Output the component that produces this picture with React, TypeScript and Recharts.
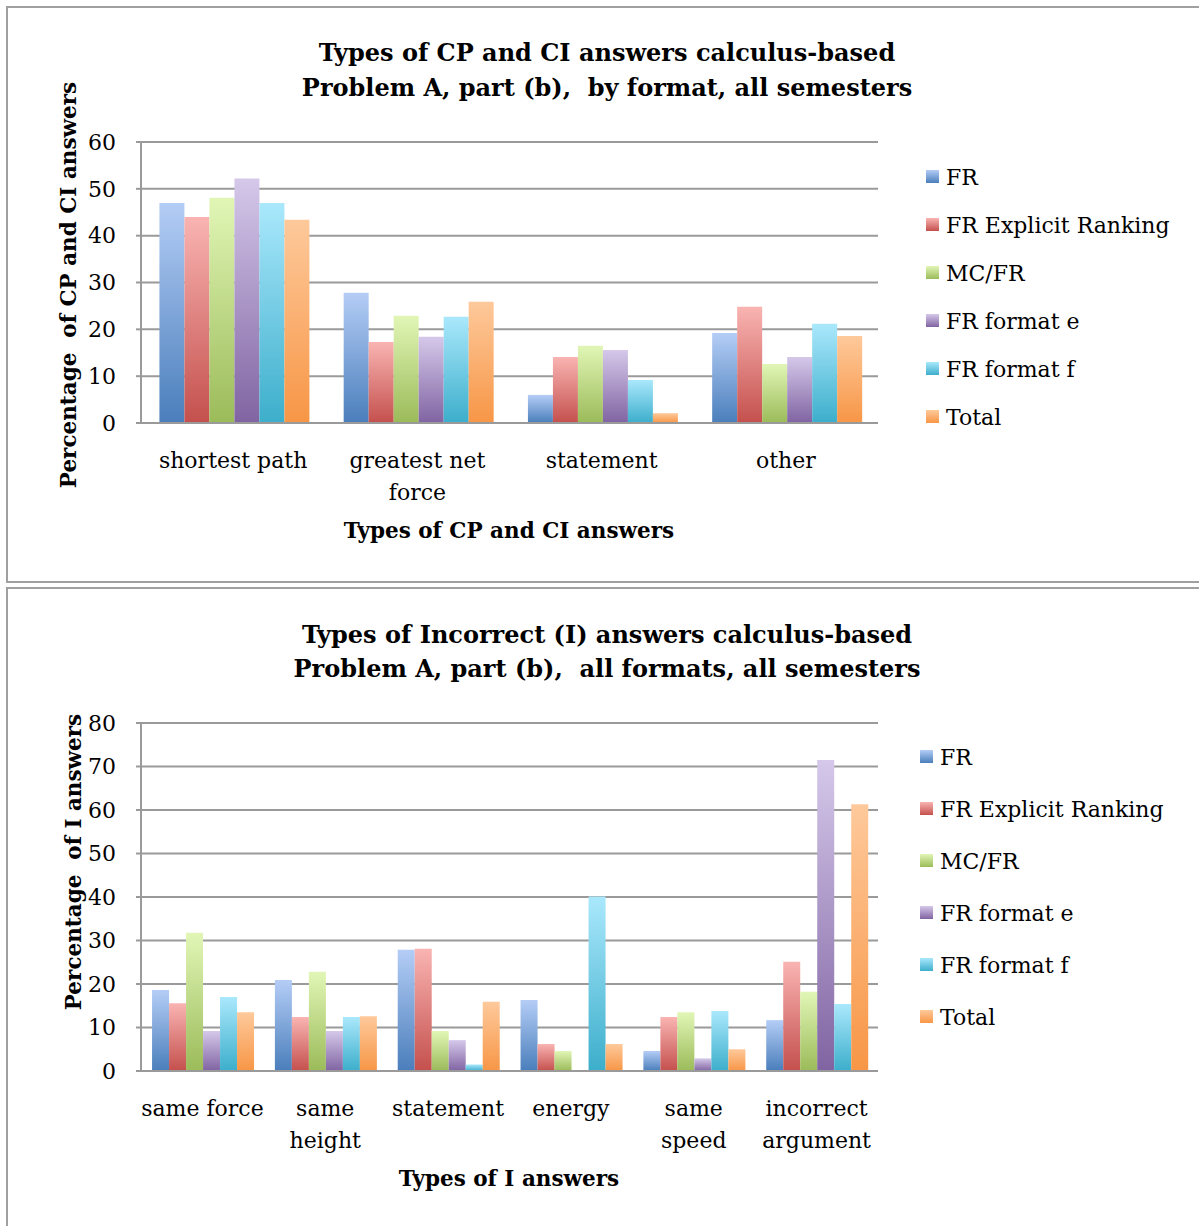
import React from "react";
import { BarChart, Bar, XAxis, YAxis, CartesianGrid } from "recharts";

const FONT = "'DejaVu Serif', serif";

const seriesNames = ["FR", "FR Explicit Ranking", "MC/FR", "FR format e", "FR format f", "Total"];
const seriesLight = ["#b4cdf6", "#f9b4b2", "#e1f6b6", "#d5c8ea", "#aae8fc", "#fec99b"];
const seriesDark = ["#4a7ebb", "#c4504d", "#9bbb59", "#8064a2", "#3caecb", "#f79646"];

// Top chart
const cpTitle = ["Types of CP and CI answers calculus-based", "Problem A, part (b),  by format, all semesters"];
const cpCategories = ["shortest path", "greatest net force", "statement", "other"];
const cpTickLines = [["shortest path"], ["greatest net", "force"], ["statement"], ["other"]];
const cpFR = [47.0, 27.8, 6.0, 19.2];
const cpExplicit = [44.0, 17.3, 14.1, 24.8];
const cpMCFR = [48.1, 22.9, 16.5, 12.6];
const cpFormatE = [52.2, 18.4, 15.6, 14.1];
const cpFormatF = [47.0, 22.7, 9.2, 21.2];
const cpTotal = [43.4, 25.9, 2.1, 18.6];
const cpYTicks = [0, 10, 20, 30, 40, 50, 60];

// Bottom chart
const iTitle = ["Types of Incorrect (I) answers calculus-based", "Problem A, part (b),  all formats, all semesters"];
const iCategories = ["same force", "same height", "statement", "energy", "same speed", "incorrect argument"];
const iTickLines = [["same force"], ["same", "height"], ["statement"], ["energy"], ["same", "speed"], ["incorrect", "argument"]];
const iFR = [18.6, 20.9, 27.9, 16.3, 4.6, 11.7];
const iExplicit = [15.6, 12.4, 28.1, 6.2, 12.4, 25.1];
const iMCFR = [31.8, 22.8, 9.2, 4.6, 13.5, 18.2];
const iFormatE = [9.2, 9.2, 7.1, 0, 2.9, 71.5];
const iFormatF = [17.0, 12.4, 1.5, 40.1, 13.8, 15.4];
const iTotal = [13.5, 12.6, 15.9, 6.2, 5.0, 61.3];
const iYTicks = [0, 10, 20, 30, 40, 50, 60, 70, 80];

function buildRows(categories: string[], series: number[][]) {
  return categories.map((c, i) => {
    const row: any = { name: c };
    series.forEach((s, k) => (row["s" + k] = s[i]));
    return row;
  });
}

type PanelProps = {
  id: string;
  top: number;
  height: number;
  title: string[];
  titleY: number[];
  categories: string[];
  tickLines: string[][];
  series: number[][];
  yTicks: number[];
  plotTop: number;
  plotBottom: number;
  gap: string;
  yTitle: string;
  yTitlePos: [number, number];
  xTitle: string;
  legendLeft: number;
  legendTop: number;
  legendRow: number;
};

const TICK_FS = 22;
const LEG_FS = 22;
const TITLE_FS = 24;
const AXT_FS = 21.5;

function Panel(p: PanelProps) {
  const W = 1199;
  const rows = buildRows(p.categories, p.series);
  const plotLeft = 141;
  const plotRight = 878;
  const yAxisW = 60;
  const xAxisH = 130;
  const margin = {
    top: p.plotTop,
    left: plotLeft - yAxisW,
    right: W - plotRight,
    bottom: p.height - p.plotBottom - xAxisH,
  };
  const renderTick = (props: any) => {
    const { x, y, payload } = props;
    const idx = p.categories.indexOf(payload.value);
    const lines = idx >= 0 ? p.tickLines[idx] : [String(payload.value)];
    return (
      <g>
        {lines.map((l, i) => (
          <text
            key={i}
            x={x}
            y={y + 35 + i * 32}
            textAnchor="middle"
            dominantBaseline="central"
            fontSize={TICK_FS}
            fontFamily={FONT}
            fill="#000"
          >
            {l}
          </text>
        ))}
      </g>
    );
  };
  return (
    <div
      style={{
        position: "absolute",
        left: 0,
        top: p.top,
        width: W,
        height: p.height,
      }}
    >
      <BarChart
        width={W}
        height={p.height}
        data={rows}
        margin={margin}
        barCategoryGap={p.gap}
        barGap={0}
        style={{ position: "absolute", left: 0, top: 0 }}
      >
        <defs>
          {seriesNames.map((n, k) => (
            <linearGradient key={n} id={`${p.id}g${k}`} x1="0" y1="0" x2="0" y2="1">
              <stop offset="0%" stopColor={seriesLight[k]} />
              <stop offset="100%" stopColor={seriesDark[k]} />
            </linearGradient>
          ))}
        </defs>
        <CartesianGrid vertical={false} stroke="#9a9a9a" strokeWidth={2} />
        <XAxis
          dataKey="name"
          height={xAxisH}
          tick={renderTick}
          tickLine={false}
          tickSize={0}
          axisLine={{ stroke: "#9a9a9a", strokeWidth: 2 }}
          interval={0}
        />
        <YAxis
          width={yAxisW}
          domain={[p.yTicks[0], p.yTicks[p.yTicks.length - 1]]}
          ticks={p.yTicks}
          interval={0}
          tickSize={5}
          tickMargin={20}
          tickLine={{ stroke: "#9a9a9a", strokeWidth: 2 }}
          axisLine={{ stroke: "#9a9a9a", strokeWidth: 2 }}
          tick={{ fill: "#000", fontSize: TICK_FS, fontFamily: FONT }}
        />
        {seriesNames.map((n, k) => (
          <Bar key={n} dataKey={"s" + k} name={n} fill={`url(#${p.id}g${k})`} isAnimationActive={false} />
        ))}
      </BarChart>
      <svg
        width={W}
        height={p.height}
        style={{ position: "absolute", left: 0, top: 0, pointerEvents: "none" }}
      >
        <defs>
          {seriesNames.map((n, k) => (
            <linearGradient key={n} id={`${p.id}lg${k}`} x1="0" y1="0" x2="0" y2="1">
              <stop offset="0%" stopColor={seriesLight[k]} />
              <stop offset="100%" stopColor={seriesDark[k]} />
            </linearGradient>
          ))}
        </defs>
        {p.title.map((t, i) => (
          <text
            key={i}
            x={607}
            y={p.titleY[i]}
            textAnchor="middle"
            dominantBaseline="central"
            fontSize={TITLE_FS}
            fontWeight="bold"
            fontFamily={FONT}
            fill="#000"
            style={{ whiteSpace: "pre" }}
          >
            {t}
          </text>
        ))}
        <text
          x={509}
          y={p.plotBottom + 107}
          textAnchor="middle"
          dominantBaseline="central"
          fontSize={AXT_FS}
          fontWeight="bold"
          fontFamily={FONT}
          fill="#000"
        >
          {p.xTitle}
        </text>
        <text
          x={p.yTitlePos[0]}
          y={p.yTitlePos[1]}
          transform={`rotate(-90 ${p.yTitlePos[0]} ${p.yTitlePos[1]})`}
          textAnchor="middle"
          dominantBaseline="central"
          fontSize={AXT_FS}
          fontWeight="bold"
          fontFamily={FONT}
          fill="#000"
          style={{ whiteSpace: "pre" }}
        >
          {p.yTitle}
        </text>
        {seriesNames.map((n, k) => {
          const cy = p.legendTop + k * p.legendRow;
          return (
            <g key={n}>
              <rect x={p.legendLeft} y={cy - 7} width={13} height={13} fill={`url(#${p.id}lg${k})`} />
              <text
                x={p.legendLeft + 20}
                y={cy}
                dominantBaseline="central"
                fontSize={LEG_FS}
                fontFamily={FONT}
                fill="#000"
              >
                {n}
              </text>
            </g>
          );
        })}
      </svg>
    </div>
  );
}

export default function App() {
  return (
    <div
      style={{
        position: "absolute",
        left: 0,
        top: 0,
        width: 1199,
        height: 1226,
        overflow: "hidden",
        background: "#fff",
      }}
    >
      <div
        style={{
          position: "absolute",
          left: 6,
          top: 6,
          width: 1210,
          height: 577,
          border: "2px solid #a0a0a0",
          boxSizing: "border-box",
        }}
      />
      <div
        style={{
          position: "absolute",
          left: 6,
          top: 587,
          width: 1210,
          height: 660,
          border: "2px solid #a0a0a0",
          boxSizing: "border-box",
        }}
      />
      <Panel
        id="cp"
        top={0}
        height={580}
        title={cpTitle}
        titleY={[52, 87]}
        categories={cpCategories}
        tickLines={cpTickLines}
        series={[cpFR, cpExplicit, cpMCFR, cpFormatE, cpFormatF, cpTotal]}
        yTicks={cpYTicks}
        plotTop={142}
        plotBottom={423}
        gap="10%"
        yTitle="Percentage  of CP and CI answers"
        yTitlePos={[68, 285]}
        xTitle="Types of CP and CI answers"
        legendLeft={926}
        legendTop={177}
        legendRow={48}
      />
      <Panel
        id="inc"
        top={588}
        height={638}
        title={iTitle}
        titleY={[46, 80]}
        categories={iCategories}
        tickLines={iTickLines}
        series={[iFR, iExplicit, iMCFR, iFormatE, iFormatF, iTotal]}
        yTicks={iYTicks}
        plotTop={135}
        plotBottom={483}
        gap="9%"
        yTitle="Percentage  of I answers"
        yTitlePos={[73, 274]}
        xTitle="Types of I answers"
        legendLeft={920}
        legendTop={169}
        legendRow={52}
      />
    </div>
  );
}
